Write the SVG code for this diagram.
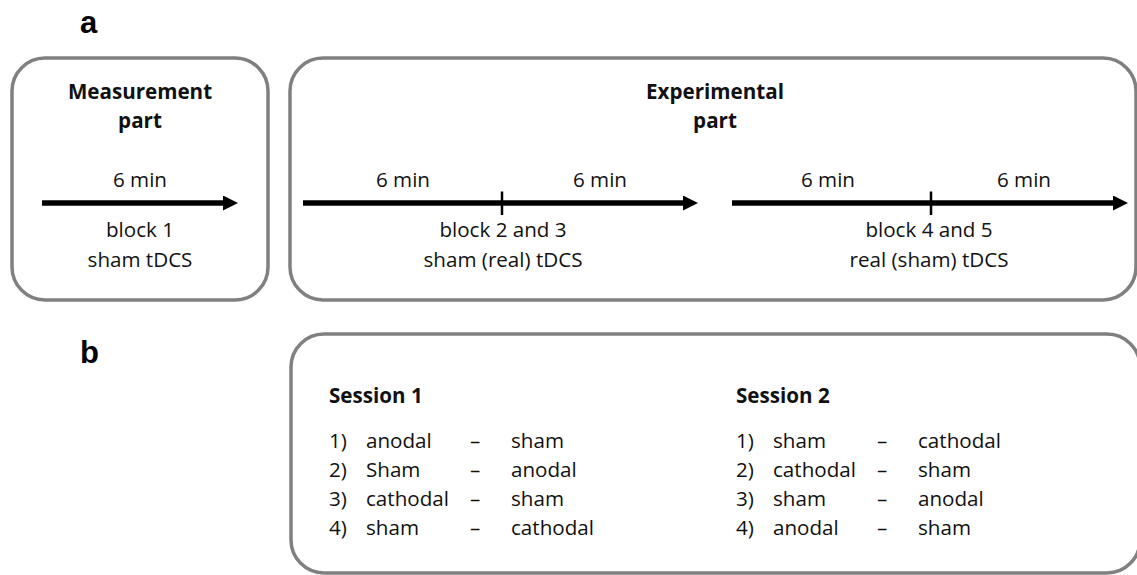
<svg xmlns="http://www.w3.org/2000/svg" width="1137" height="575" viewBox="0 0 1137 575">
<defs>
<style>
.box{fill:#fff;stroke:#808080;stroke-width:3.5}
.t{font-family:"Open Sans","Liberation Sans",sans-serif;font-size:20.6px;fill:#111}
.b{font-weight:bold}
.c{text-anchor:middle}
.lab{font-family:"Liberation Sans",Arial,sans-serif;font-weight:bold;font-size:31px;fill:#000}
.ax{stroke:#000;stroke-width:5.5;fill:none}
.tick{stroke:#000;stroke-width:2.5}
</style>
<marker id="ah" markerUnits="userSpaceOnUse" markerWidth="16" markerHeight="16" refX="3" refY="7.5" orient="auto">
<path d="M0,0 L15,7.5 L0,15 z" fill="#000"/>
</marker>
</defs>
<rect width="1137" height="575" fill="#fff"/>
<text class="lab" x="80" y="33">a</text>
<text class="lab" x="80" y="363">b</text>
<g id="measurement">
<rect class="box" x="12" y="58" width="256" height="242" rx="33"/>
<text class="t b c" x="140" y="99">Measurement</text>
<text class="t b c" x="140" y="128">part</text>
<text class="t c" x="140" y="187">6 min</text>
<text class="t c" x="140" y="237">block 1</text>
<text class="t c" x="140" y="267">sham tDCS</text>
</g>
<g id="experimental">
<rect class="box" x="290" y="58" width="846" height="242" rx="33"/>
<text class="t b c" x="715" y="99">Experimental</text>
<text class="t b c" x="715" y="128">part</text>
<text class="t c" x="403" y="187">6 min</text>
<text class="t c" x="600" y="187">6 min</text>
<text class="t c" x="503" y="237">block 2 and 3</text>
<text class="t c" x="503" y="267">sham (real) tDCS</text>
<text class="t c" x="828" y="187">6 min</text>
<text class="t c" x="1024" y="187">6 min</text>
<text class="t c" x="929" y="237">block 4 and 5</text>
<text class="t c" x="929" y="267">real (sham) tDCS</text>
</g>
<g id="connectors">
<line class="ax" x1="42" y1="203" x2="226" y2="203" marker-end="url(#ah)"/>
<line class="ax" x1="303" y1="203" x2="686" y2="203" marker-end="url(#ah)"/>
<line class="tick" x1="502" y1="191.5" x2="502" y2="215"/>
<line class="ax" x1="732" y1="203" x2="1116" y2="203" marker-end="url(#ah)"/>
<line class="tick" x1="931" y1="191.5" x2="931" y2="215"/>
</g>
<g id="sessions">
<rect class="box" x="291" y="334" width="849" height="239" rx="33"/>
<text class="t b" x="329" y="403">Session 1</text>
<text class="t" x="329" y="448">1)</text><text class="t" x="366" y="448">anodal</text><text class="t" x="470" y="448">–</text><text class="t" x="511" y="448">sham</text>
<text class="t" x="329" y="477">2)</text><text class="t" x="366" y="477">Sham</text><text class="t" x="470" y="477">–</text><text class="t" x="511" y="477">anodal</text>
<text class="t" x="329" y="506">3)</text><text class="t" x="366" y="506">cathodal</text><text class="t" x="470" y="506">–</text><text class="t" x="511" y="506">sham</text>
<text class="t" x="329" y="535">4)</text><text class="t" x="366" y="535">sham</text><text class="t" x="470" y="535">–</text><text class="t" x="511" y="535">cathodal</text>
<text class="t b" x="736" y="403">Session 2</text>
<text class="t" x="736" y="448">1)</text><text class="t" x="773" y="448">sham</text><text class="t" x="877" y="448">–</text><text class="t" x="918" y="448">cathodal</text>
<text class="t" x="736" y="477">2)</text><text class="t" x="773" y="477">cathodal</text><text class="t" x="877" y="477">–</text><text class="t" x="918" y="477">sham</text>
<text class="t" x="736" y="506">3)</text><text class="t" x="773" y="506">sham</text><text class="t" x="877" y="506">–</text><text class="t" x="918" y="506">anodal</text>
<text class="t" x="736" y="535">4)</text><text class="t" x="773" y="535">anodal</text><text class="t" x="877" y="535">–</text><text class="t" x="918" y="535">sham</text>
</g>
</svg>
